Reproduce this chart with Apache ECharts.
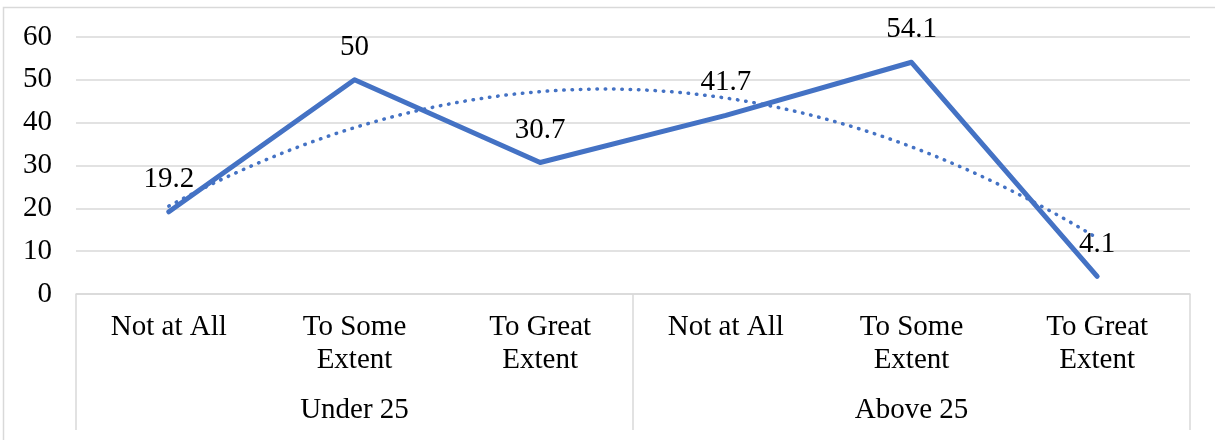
<!DOCTYPE html>
<html>
<head>
<meta charset="utf-8">
<script src="https://cdn.jsdelivr.net/npm/echarts@6/dist/echarts.min.js"></script>
<style>
  html, body { margin: 0; padding: 0; background: #fff; }
  #chart { width: 1215px; height: 440px; }
</style>
</head>
<body>
<div id="chart"></div>
<script>
// Response categories (inner level) and age groups (outer level)
const categories = ['Not at All', 'To Some\nExtent', 'To Great\nExtent', 'Not at All', 'To Some\nExtent', 'To Great\nExtent'];
const groups = ['Under 25', 'Above 25'];
const values = [19.2, 50, 30.7, 41.7, 54.1, 4.1];
const yTicks = { min: 0, max: 60, interval: 10 };

// Second-order polynomial trendline (least squares) over positions 1..n
function quadFit(ys) {
  const n = ys.length;
  let sx = 0, sx2 = 0, sx3 = 0, sx4 = 0, sy = 0, sxy = 0, sx2y = 0;
  ys.forEach((y, i) => {
    const x = i + 1;
    sx += x; sx2 += x * x; sx3 += x ** 3; sx4 += x ** 4;
    sy += y; sxy += x * y; sx2y += x * x * y;
  });
  // Solve 3x3 normal equations with Cramer's rule
  const M = [[n, sx, sx2], [sx, sx2, sx3], [sx2, sx3, sx4]];
  const B = [sy, sxy, sx2y];
  const det = m => m[0][0] * (m[1][1] * m[2][2] - m[1][2] * m[2][1])
                 - m[0][1] * (m[1][0] * m[2][2] - m[1][2] * m[2][0])
                 + m[0][2] * (m[1][0] * m[2][1] - m[1][1] * m[2][0]);
  const D = det(M);
  const coef = [0, 1, 2].map(k => det(M.map((row, r) => row.map((v, c) => (c === k ? B[r] : v)))) / D);
  return x => coef[0] + coef[1] * x + coef[2] * x * x;
}
const trendFn = quadFit(values);
const trendData = [];
for (let x = 1; x <= values.length + 1e-9; x += 0.05) trendData.push([x, trendFn(x)]);

const FONT = '"Liberation Serif", "Times New Roman", serif';
const FS = 29;
const GRID = '#d9d9d9';
const BLUE = '#4472C4';

const chart = echarts.init(document.getElementById('chart'), null, { renderer: 'canvas' });
chart.setOption({
  animation: false,
  backgroundColor: '#fff',
  grid: { left: 76, right: 25, top: 37, bottom: 146, containLabel: false },
  graphic: [{
    type: 'rect',
    shape: { x: 3.5, y: 7.5, width: 1230, height: 450 },
    style: { fill: 'none', stroke: GRID, lineWidth: 1.5 },
    silent: true
  }],
  xAxis: [
    {
      type: 'category',
      data: categories,
      position: 'bottom',
      boundaryGap: true,
      axisLine: { show: true, lineStyle: { color: GRID, width: 1.5 } },
      axisTick: { show: false },
      axisLabel: {
        interval: 0, margin: 17, color: '#000',
        fontFamily: FONT, fontSize: FS, lineHeight: 33
      },
      splitLine: { show: false }
    },
    {
      type: 'category',
      data: groups,
      position: 'bottom',
      boundaryGap: true,
      axisLine: { show: false },
      axisTick: { show: true, inside: false, length: 136, alignWithLabel: false, lineStyle: { color: GRID, width: 1.5 } },
      axisLabel: {
        interval: 0, margin: 100, color: '#000',
        fontFamily: FONT, fontSize: FS, lineHeight: 33
      },
      splitLine: { show: false }
    },
    {
      type: 'value',
      min: 0.5,
      max: values.length + 0.5,
      show: false
    }
  ],
  yAxis: {
    type: 'value',
    min: yTicks.min, max: yTicks.max, interval: yTicks.interval,
    axisLine: { show: false },
    axisTick: { show: false },
    axisLabel: { margin: 24, color: '#000', fontFamily: FONT, fontSize: FS },
    splitLine: { show: true, lineStyle: { color: GRID, width: 1.5 } }
  },
  series: [
    {
      type: 'line',
      xAxisIndex: 0,
      data: values,
      symbol: 'circle',
      symbolSize: 2,
      showSymbol: true,
      itemStyle: { color: BLUE },
      lineStyle: { color: BLUE, width: 5, cap: 'round', join: 'round' },
      label: {
        show: true, position: 'top', distance: 17,
        color: '#000', fontFamily: FONT, fontSize: FS
      },
      z: 2
    },
    {
      type: 'line',
      xAxisIndex: 2,
      data: trendData,
      symbol: 'none',
      smooth: false,
      lineStyle: { color: BLUE, width: 3.5, type: [0.5, 7.8], cap: 'round' },
      z: 3,
      silent: true
    }
  ]
});
</script>
</body>
</html>
